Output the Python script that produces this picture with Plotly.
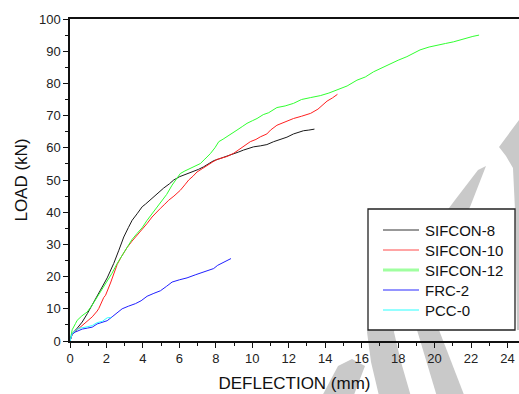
import plotly.graph_objects as go

# ---------------- data ----------------
s8_x = [0, 0.12, 0.4, 0.67, 0.95, 1.22, 1.45, 1.67, 2.04, 2.4, 2.68, 2.95, 3.2, 3.41, 3.68, 3.96, 4.14, 4.5, 4.8,
        5.14, 5.45, 5.69, 6.0, 6.24, 6.5, 6.78, 7.05, 7.33, 7.6, 7.88, 8.15, 8.43, 8.7, 8.98, 9.25, 9.52, 9.8, 10.07,
        10.44, 10.8, 11.17, 11.53, 11.9, 12.26, 12.5, 12.81, 13.1, 13.41]
s8_y = [0, 2.3, 4.0, 5.9, 8.5, 11.1, 13.5, 15.8, 19.6, 24.1, 28.2, 32.3, 35.2, 37.5, 39.5, 41.7, 42.5, 44.3, 46.0,
        47.5, 48.8, 50.0, 51.0, 51.5, 52.0, 52.5, 53.3, 54.1, 55.0, 56.0, 56.5, 57.0, 57.5, 58.0, 58.7, 59.3, 59.8, 60.3,
        60.6, 61.0, 61.9, 62.6, 63.3, 64.3, 64.7, 65.3, 65.5, 65.8]

s10_x = [0, 0.12, 0.4, 0.67, 0.94, 1.22, 1.49, 1.58, 1.85, 1.95, 2.22, 2.31, 2.59, 2.8, 3.13, 3.4, 3.68, 3.95, 4.23,
         4.5, 4.78, 4.96, 5.2, 5.41, 5.7, 6.05, 6.3, 6.51, 6.75, 6.97, 7.25, 7.52, 7.8, 8.07, 8.35, 8.61, 8.98, 9.34,
         9.6, 9.89, 10.2, 10.44, 10.8, 11.0, 11.35, 11.8, 12.26, 12.7, 13.2, 13.6, 13.9, 14.1, 14.4, 14.67]
s10_y = [0, 2.0, 3.5, 4.9, 6.0, 7.5, 9.3, 10.1, 13.5, 14.2, 18.0, 19.4, 23.8, 26.0, 29.0, 31.0, 32.8, 34.5, 36.5,
         38.5, 40.3, 41.2, 42.5, 43.7, 45.0, 46.8, 48.5, 50.0, 51.2, 52.5, 53.5, 54.6, 55.5, 56.4, 56.9, 57.3, 58.3, 59.8,
         60.8, 61.9, 62.6, 63.4, 64.3, 65.5, 67.0, 68.0, 69.1, 69.8, 70.7, 72.0, 73.5, 74.5, 75.5, 76.6]

s12_x = [0, 0.05, 0.12, 0.3, 0.39, 0.65, 0.94, 1.2, 1.45, 1.75, 2.04, 2.3, 2.59, 2.85, 3.13, 3.4, 3.68, 3.96, 4.23,
         4.5, 4.78, 5.05, 5.3, 5.6, 5.85, 6.05, 6.3, 6.6, 6.9, 7.15, 7.4, 7.7, 7.95, 8.16, 8.4, 8.61, 8.9, 9.16, 9.45,
         9.71, 10.0, 10.26, 10.6, 10.9, 11.35, 11.8, 12.26, 12.7, 13.2, 13.73, 14.2, 14.7, 15.2, 15.74, 16.2, 16.65,
         17.1, 17.56, 18.0, 18.48, 18.9, 19.2, 19.7, 20.12, 20.6, 21.03, 21.4, 21.76, 22.1, 22.44]
s12_y = [0, 2.0, 3.5, 5.4, 6.4, 7.8, 9.0, 11.0, 13.2, 16.0, 18.6, 21.0, 24.1, 26.5, 29.2, 31.5, 33.4, 35.2, 37.5,
         39.5, 41.5, 43.5, 45.5, 48.4, 50.5, 52.0, 52.8, 53.6, 54.3, 55.1, 56.5, 58.2, 60.0, 61.9, 62.7, 63.4, 64.4,
         65.5, 66.6, 67.6, 68.4, 69.1, 70.3, 70.9, 72.5, 73.0, 73.8, 75.0, 75.6, 76.2, 77.0, 78.0, 79.2, 81.0, 82.0,
         83.6, 84.8, 86.2, 87.2, 88.3, 89.5, 90.4, 91.3, 91.9, 92.4, 92.9, 93.5, 94.2, 94.6, 95.0]

frc_x = [0, 0.12, 0.3, 0.67, 0.95, 1.22, 1.49, 1.7, 2.04, 2.31, 2.55, 2.86, 3.2, 3.59, 3.9, 4.23, 4.6, 4.96, 5.3,
         5.6, 6.0, 6.42, 6.9, 7.4, 7.88, 8.1, 8.43, 8.6, 8.83]
frc_y = [0, 2.2, 2.8, 3.7, 4.0, 4.3, 5.3, 5.6, 6.3, 7.5, 8.5, 10.0, 10.8, 11.6, 12.5, 13.9, 14.8, 15.6, 17.0,
         18.3, 19.0, 19.6, 20.6, 21.6, 22.5, 23.5, 24.5, 25.1, 25.6]

pcc_x = [0, 0.12, 0.3, 0.48, 0.94, 1.22, 1.49, 1.77, 2.04, 2.26]
pcc_y = [0, 2.3, 3.2, 3.9, 4.4, 4.8, 5.7, 6.1, 7.2, 7.3]

series_names = ["SIFCON-8", "SIFCON-10", "SIFCON-12", "FRC-2", "PCC-0"]
series_x = [s8_x, s10_x, s12_x, frc_x, pcc_x]
series_y = [s8_y, s10_y, s12_y, frc_y, pcc_y]
series_colors = ["#1a1a1a", "#ff2020", "#30ff30", "#2020ff", "#30ffff"]
# legend sample styles (as drawn in the reference legend)
legend_colors = ["#333333", "#ff4a4a", "#a0ffa0", "#7070ff", "#70ffff"]
legend_widths = [1, 1, 3, 1.5, 1.5]

x_ticks = list(range(0, 26, 2))
y_ticks = list(range(0, 101, 10))

# ---------------- figure ----------------
W, H = 519, 394
ML, MR, MT, MB = 70, 0, 19, 53
FONT = "Liberation Sans, Arial, sans-serif"

fig = go.Figure()
for name, xs, ys, col in zip(series_names, series_x, series_y, series_colors):
    fig.add_trace(go.Scatter(x=xs, y=ys, mode="lines", name=name,
                             line=dict(color=col, width=1), showlegend=False))

pw, ph = W - ML - MR, H - MT - MB
def px(p):
    return (p[0] - ML) / pw, (H - MB - p[1]) / ph

# watermark (decoration), defined in pixel space
wm_polys = [
    [(478, 170), (455, 200), (428, 236), (398, 272), (374, 306), (367, 332), (371, 362), (380, 400),
     (412, 400), (401, 362), (394, 332), (400, 304), (422, 274), (447, 242), (470, 207), (486, 166)],
    [(540, 108), (519, 120), (499, 147), (506, 156), (513, 168), (515, 210), (516, 260), (517, 330), (540, 330)],
    [(417, 330), (439, 330), (466, 400), (438, 400)],
    [(338, 366), (352, 359), (365, 366), (352, 400), (320, 400)],
]
for poly in wm_polys:
    pts = [px(p) for p in poly]
    path = "M " + " L ".join(f"{a:.4f},{b:.4f}" for a, b in pts) + " Z"
    fig.add_shape(type="path", path=path, xref="paper", yref="paper",
                  fillcolor="#c9c9c9", line=dict(width=0), layer="below")

# legend box, drawn by hand to match the reference's box and spacing
bx0, by0 = px((368, 209))
bx1, by1 = px((515, 330))
fig.add_shape(type="rect", xref="paper", yref="paper", x0=bx0, y0=by1, x1=bx1, y1=by0,
              fillcolor="white", line=dict(color="#222", width=1.3), layer="above")
for i, (name, lc, lw) in enumerate(zip(series_names, legend_colors, legend_widths)):
    yc = 230 + 20 * i
    lx0, ly = px((383, yc))
    lx1, _ = px((419, yc))
    fig.add_shape(type="line", xref="paper", yref="paper", x0=lx0, y0=ly, x1=lx1, y1=ly,
                  line=dict(color=lc, width=lw), layer="above")
    tx, ty = px((423, yc))
    fig.add_annotation(x=tx, y=ty, xref="paper", yref="paper", text=name, showarrow=False,
                       xanchor="left", yanchor="middle", xshift=0,
                       font=dict(family=FONT, size=15, color="#111"))

axis_common = dict(showline=True, linecolor="#111", linewidth=1.5, showgrid=False, zeroline=False,
                   ticks="outside", ticklen=5, tickwidth=1, tickcolor="#111", automargin=False,
                   tickfont=dict(family=FONT, size=13, color="#222"))

fig.update_xaxes(range=[0, pw / 18.23], tickvals=x_ticks, mirror=True,
                 minor=dict(dtick=1, ticklen=3, tickwidth=1, tickcolor="#111", ticks="outside"),
                 title=dict(text="DEFLECTION (mm)", font=dict(family=FONT, size=17, color="#111"), standoff=12),
                 **axis_common)
fig.update_yaxes(range=[0, 100], tickvals=y_ticks,
                 minor=dict(dtick=5, ticklen=3, tickwidth=1, tickcolor="#111", ticks="outside"),
                 title=dict(text="LOAD (kN)", font=dict(family=FONT, size=17, color="#111"), standoff=7),
                 **axis_common)

fig.update_layout(
    width=W, height=H,
    margin=dict(l=ML, r=MR, t=MT, b=MB, pad=0),
    paper_bgcolor="white", plot_bgcolor="rgba(0,0,0,0)",
    font=dict(family=FONT, color="#111"),
    showlegend=False,
)

fig.write_html("out.html", config={"displayModeBar": False},
               post_script="document.body.style.margin='0';")
